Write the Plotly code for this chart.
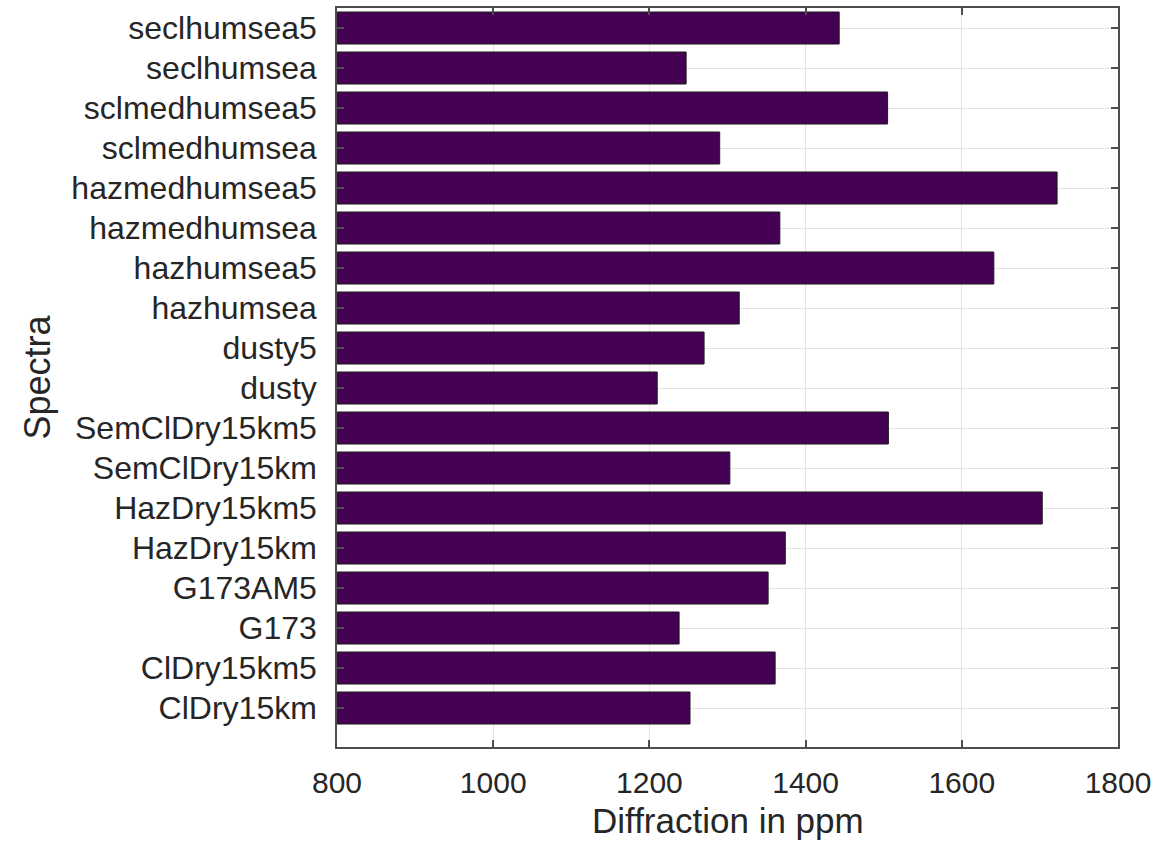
import plotly.graph_objects as go

# Spectra, listed bottom to top
spectra = [
    "ClDry15km", "ClDry15km5", "G173", "G173AM5", "HazDry15km", "HazDry15km5",
    "SemClDry15km", "SemClDry15km5", "dusty", "dusty5", "hazhumsea", "hazhumsea5",
    "hazmedhumsea", "hazmedhumsea5", "sclmedhumsea", "sclmedhumsea5",
    "seclhumsea", "seclhumsea5",
]
diffraction_ppm = [
    1252, 1361, 1238, 1352, 1374, 1703,
    1303, 1506, 1210, 1270, 1315, 1641,
    1367, 1722, 1290, 1505,
    1247, 1443,
]
x_ticks = [800, 1000, 1200, 1400, 1600, 1800]

text_color = "#262626"
axis_color = "#4d4d4d"
grid_color = "#e3e3e3"
font_family = "Liberation Sans, Arial, Helvetica, sans-serif"

fig = go.Figure(
    go.Bar(
        x=diffraction_ppm,
        y=spectra,
        orientation="h",
        width=0.8,
        marker=dict(color="#440154", line=dict(color="#1a1a1a", width=1)),
        showlegend=False,
    )
)

fig.update_layout(
    width=1173,
    height=842,
    margin=dict(l=337, r=55, t=8, b=95),
    paper_bgcolor="white",
    plot_bgcolor="white",
    font=dict(family=font_family, color=text_color),
    xaxis=dict(
        range=[800, 1800],
        tickvals=x_ticks,
        ticktext=[str(v) for v in x_ticks],
        ticks="inside",
        ticklen=7,
        tickwidth=1.5,
        tickcolor=axis_color,
        tickfont=dict(size=30, color=text_color),
        ticklabelstandoff=8,
        showline=True,
        linecolor=axis_color,
        linewidth=1.5,
        mirror="ticks",
        showgrid=True,
        gridcolor=grid_color,
        gridwidth=1,
        zeroline=False,
        automargin=False,
    ),
    yaxis=dict(
        type="category",
        categoryorder="array",
        categoryarray=spectra,
        range=[-0.975, 17.5],
        ticks="inside",
        ticklen=7,
        tickwidth=1.5,
        tickcolor=axis_color,
        tickfont=dict(size=32, color=text_color),
        ticklabelstandoff=12,
        showline=True,
        linecolor=axis_color,
        linewidth=1.5,
        mirror="ticks",
        showgrid=True,
        gridcolor=grid_color,
        gridwidth=1,
        zeroline=False,
        automargin=False,
    ),
    annotations=[
        dict(
            text="Diffraction in ppm",
            xref="paper", yref="paper",
            x=0.5, y=0,
            xanchor="center", yanchor="middle",
            yshift=-73,
            showarrow=False,
            font=dict(size=35, color=text_color, family=font_family),
        ),
        dict(
            text="Spectra",
            xref="paper", yref="paper",
            x=0, y=0.5,
            xanchor="center", yanchor="middle",
            xshift=-300,
            textangle=-90,
            showarrow=False,
            font=dict(size=36, color=text_color, family=font_family),
        ),
    ],
)

fig.write_html("out.html")
